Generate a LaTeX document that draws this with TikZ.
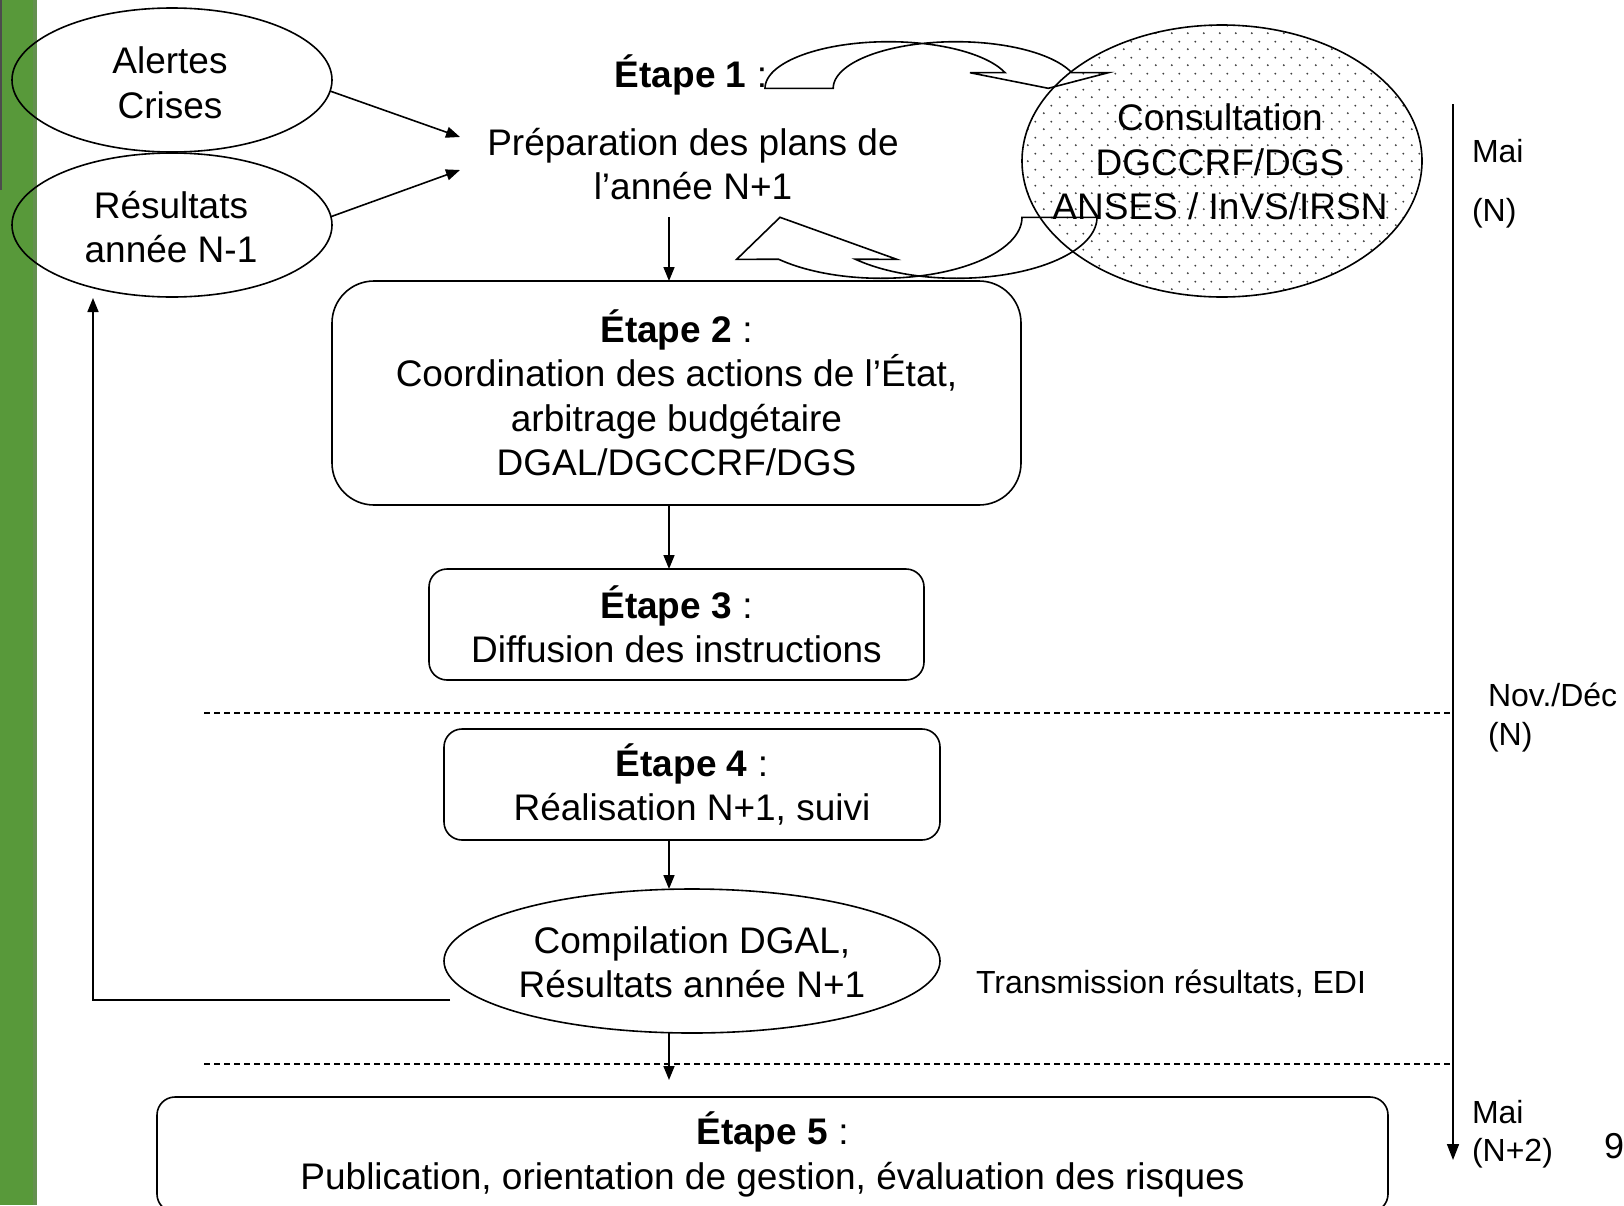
\documentclass[tikz,border=0pt]{standalone}
\usepackage{fontspec}
\setmainfont{Liberation Sans}
\usetikzlibrary{arrows.meta,shapes.geometric,patterns.meta}
\definecolor{barg}{RGB}{88,153,58}
\tikzdeclarepattern{
  name=sparsedots,
  type=colored,
  bottom left={(0pt,0pt)},
  top right={(16pt,16pt)},
  tile size={(16pt,16pt)},
  code={\fill[black!75] (4pt,4pt) circle (1.1pt);
        \fill[black!75] (12pt,12pt) circle (1.1pt);}
}
\begin{document}
\begin{tikzpicture}[x=1pt,y=-1pt,
  every node/.style={inner sep=0pt, outer sep=0pt},
  bigtxt/.style={font=\fontsize{37}{44.5}\selectfont, align=center},
  smalltxt/.style={font=\fontsize{32}{38.5}\selectfont, align=left},
  ell/.style={draw, ellipse, line width=1.6pt, bigtxt},
  stepbox/.style={draw, rounded corners=#1, line width=1.6pt, bigtxt},
  arr/.style={line width=1.6pt, -{Triangle[length=14pt,width=11pt]}},
  sepline/.style={line width=1.3pt, dash pattern=on 6pt off 4pt},
  block/.style={line width=1.6pt, line join=miter}
]
\useasboundingbox (0,0) rectangle (1624,1205);
\fill[white] (0,0) rectangle (1624,1205);
% green bar
\fill[barg] (0,0) rectangle (35,1205);
\fill[barg!70!gray] (33,0) rectangle (37,1205);
\fill[black!70] (0,0) rectangle (2,190);

% left ellipses
\node[ell, minimum width=320pt, minimum height=144pt] (alertes) at (172,80) {};
\node[bigtxt] (alertestxt) at (170,83) {Alertes\\Crises};
\node[ell, minimum width=320pt, minimum height=144pt] (resn1) at (172,225) {};
\node[bigtxt] (resn1txt) at (171,227) {Résultats\\année N-1};

% step 1
\node[bigtxt] (e1title) at (691,75) {\textbf{Étape 1} :};
\node[bigtxt] (e1) at (693,164) {Préparation des plans de\\l’année N+1};

% consultation
\node[draw, ellipse, line width=1.6pt, pattern=sparsedots, minimum width=400pt, minimum height=272pt] (consult) at (1222,161) {};
\node[bigtxt] (consulttxt) at (1220,162) {Consultation\\DGCCRF/DGS\\ANSES / InVS/IRSN};

% steps
\node[stepbox=42, minimum width=689pt, minimum height=224pt] (e2) at (676.5,393) {\textbf{Étape 2} :\\Coordination des actions de l’État,\\arbitrage budgétaire\\DGAL/DGCCRF/DGS};
\node[stepbox=18, minimum width=495pt, minimum height=111pt] (e3) at (676.5,624.5) {\textbf{Étape 3} :\\Diffusion des instructions};
\node[stepbox=18, minimum width=496pt, minimum height=111pt] (e4) at (692,784.5) {\textbf{Étape 4} :\\Réalisation N+1, suivi};
\node[ell, minimum width=496pt, minimum height=144pt] (comp) at (692,961) {};
\node[bigtxt] (comptxt) at (692,962.5) {Compilation DGAL,\\Résultats année N+1};
\node[stepbox=18, minimum width=1231pt, minimum height=115pt] (e5) at (772.5,1154.5) {\textbf{Étape 5} :\\Publication, orientation de gestion, évaluation des risques};

% labels
\node[smalltxt, anchor=west] (mai1) at (1472,151) {Mai};
\node[smalltxt, anchor=west] (n1) at (1472,213) {(N)};
\node[smalltxt, anchor=west] (novdec) at (1488,717.5) {Nov./Déc\\(N)};
\node[smalltxt, anchor=west] (mai2) at (1472,1134) {Mai\\(N+2)};
\node[font=\fontsize{36}{42}\selectfont] (pagenum) at (1614,1146) {9};
\node[smalltxt, anchor=west] (transm) at (976,984) {Transmission résultats, EDI};

% coordinates
\coordinate (a1) at (460,137);
\coordinate (a2) at (460,170);
\coordinate (c1) at (669,217);
\coordinate (c5) at (669,1080);
\coordinate (fb) at (450,1000);
\coordinate (fbc) at (93,1000);
\coordinate (fbend) at (93,298);
\coordinate (tltop) at (1453,104);
\coordinate (tlend) at (1453,1160);
\coordinate (d1a) at (204,713);
\coordinate (d2a) at (204,1064);

% connectors
\draw[arr] (alertes.-4) -- (a1);
\draw[arr] (resn1.3) -- (a2);
\draw[arr] (c1) -- (c1 |- e2.north);
\draw[arr] (e2.south -| c1) -- (e3.north -| c1);
\draw[arr] (e4.south -| c1) -- (comp.north -| c1);
\draw[arr] (comp.south -| c1) -- (c5);
\draw[arr] (fb) -- (fbc) -- (fbend);
\draw[line width=1.6pt, -{Triangle[length=16pt,width=12pt]}] (tltop) -- (tlend);

% dashed separators
\draw[sepline] (d1a) -- (d1a -| tltop);
\draw[sepline] (d2a) -- (d2a -| tltop);

% curved block arrows
\draw[block] (765,88.3) -- plot[domain=180:19.6, samples=60] ({888.6+123.6*cos(\x)},{88.3-46.6*sin(\x)}) -- (970,72.7) -- (1048.3,88.3) -- (1108.3,72.7) -- plot[domain=19.6:180, samples=60] ({956+122.8*cos(\x)},{88.3-46.6*sin(\x)}) -- cycle;
\draw[block] (780,217.3) -- (736.7,259.3) -- plot[domain=136.5:0, samples=60] ({881+141*cos(\x)},{217.3+61*sin(\x)}) -- plot[domain=0:136.5, samples=60] ({957+140*cos(\x)},{217.3+61*sin(\x)}) -- (896.7,259.3) -- cycle;
\end{tikzpicture}
\end{document}
